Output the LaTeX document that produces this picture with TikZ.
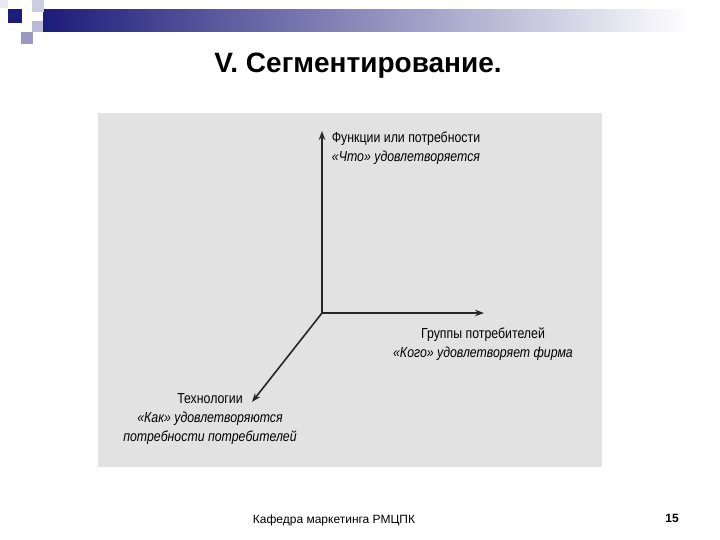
\documentclass[tikz,border=0pt]{standalone}
\usepackage{fontspec}
\setmainfont{Liberation Sans}
\newfontfamily\narrowfont[FakeStretch=0.85]{Liberation Sans}
\usetikzlibrary{arrows.meta}
\definecolor{barblue}{RGB}{28,28,122}
\definecolor{scangray}{RGB}{226,226,226}
\begin{document}
\begin{tikzpicture}[x=1pt,y=-1pt,
  axis/.style={draw=black!85, line width=1.6pt, -{Stealth[length=9pt,width=6.5pt]}},
  axislabel/.style={align=center, inner sep=0pt, font=\narrowfont\fontsize{14.5}{19}\selectfont}]
\useasboundingbox (0,0) rectangle (720,540);
\fill[white] (0,0) rectangle (720,540);
% header bar and squares
\shade[left color=barblue, right color=white] (43,10) rectangle (690,32);
\foreach \x/\y/\s/\c in {32/0/12/barblue!22, 0/0/8/barblue!10, 32/21/11/barblue!30, 21/32/12/barblue!45, 8/9/14/barblue} {
    \fill[\c] (\x,\y) rectangle ++(\s,\s);
}
\node[anchor=base, font=\bfseries\fontsize{28}{32}\selectfont] (title) at (358,73) {V. Сегментирование.};
% scanned picture
\fill[scangray] (98,113) rectangle (602,467);
\coordinate (o) at (322,313);
\coordinate (what) at (322,131);
\coordinate (whom) at (484,313);
\coordinate (how) at (252,402);
\draw[axis] (o) -- (what);
\draw[axis] (o) -- (whom);
\draw[axis] (o) -- (how);
\node[axislabel] (funclabel) at (406,148) {Функции или потребности\\\itshape «Что» удовлетворяется};
\node[axislabel] (grouplabel) at (483,344) {Группы потребителей\\\itshape «Кого» удовлетворяет фирма};
\node[axislabel] (techlabel) at (210,419) {Технологии\\\itshape «Как» удовлетворяются\\\itshape потребности потребителей};
% footer
\node[anchor=base, font=\fontsize{12}{14}\selectfont] (footer) at (334,523) {Кафедра маркетинга РМЦПК};
\node[anchor=base, font=\bfseries\fontsize{12}{14}\selectfont] (pagenum) at (672,522) {15};
\end{tikzpicture}
\end{document}
